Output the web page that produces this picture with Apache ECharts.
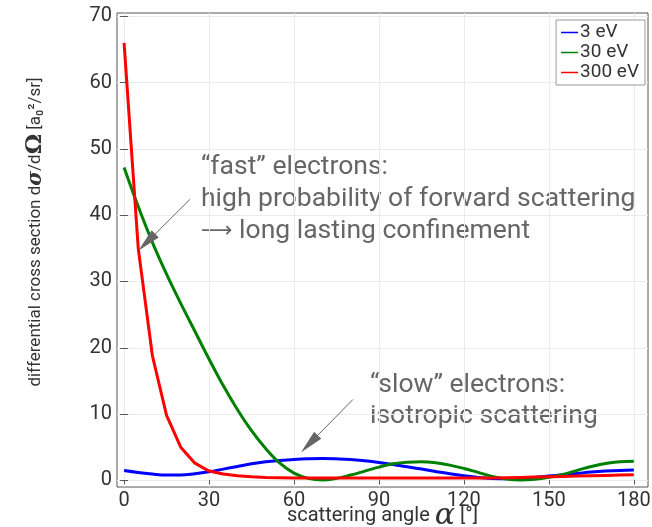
<!DOCTYPE html>
<html>
<head>
<meta charset="utf-8">
<title>differential cross section</title>
<script src="https://cdn.jsdelivr.net/npm/echarts@6/dist/echarts.min.js"></script>
<style>
  html, body { margin: 0; padding: 0; background: #fff; }
  #chart { width: 652px; height: 527px; }
</style>
</head>
<body>
<div id="chart"></div>
<script>
  // scattering angle in degrees, 5 deg steps
  const angles = [0, 5, 10, 15, 20, 25, 30, 35, 40, 45, 50, 55, 60, 65, 70, 75, 80, 85, 90,
    95, 100, 105, 110, 115, 120, 125, 130, 135, 140, 145, 150, 155, 160, 165, 170, 175, 180]
  // differential cross section [a0^2/sr]
  const cs3eV = [1.5, 1.2, 0.95, 0.8, 0.8, 1.0, 1.3, 1.7, 2.1, 2.5, 2.8, 3.0, 3.15, 3.25, 3.3, 3.25, 3.15, 2.95, 2.7,
    2.4, 2.05, 1.7, 1.35, 1.0, 0.7, 0.45, 0.3, 0.25, 0.3, 0.45, 0.65, 0.85, 1.05, 1.25, 1.4, 1.5, 1.55]
  const cs30eV = [47.2, 41.3, 35.9, 31.1, 26.7, 22.5, 18.3, 14.3, 10.7, 7.5, 4.8, 2.6, 1.1, 0.3, 0.05, 0.3, 0.8, 1.4, 2.0,
    2.5, 2.75, 2.8, 2.65, 2.3, 1.8, 1.2, 0.6, 0.2, 0.05, 0.15, 0.45, 0.9, 1.5, 2.1, 2.55, 2.8, 2.9]
  const cs300eV = [66, 35, 18.8, 9.8, 5.0, 2.6, 1.4, 0.95, 0.7, 0.55, 0.45, 0.4, 0.35, 0.35, 0.35, 0.35, 0.35, 0.35, 0.35,
    0.35, 0.35, 0.35, 0.35, 0.35, 0.35, 0.35, 0.35, 0.4, 0.45, 0.5, 0.55, 0.6, 0.65, 0.7, 0.75, 0.8, 0.85]
  const seriesNames = ['3 eV', '30 eV', '300 eV']
  const seriesColors = ['#0000ff', '#008000', '#ff0000']
  const xTicks = [0, 30, 60, 90, 120, 150, 180]
  const yTicks = [0, 10, 20, 30, 40, 50, 60, 70]
  // annotation arrows: [start, head] in data coordinates
  const fastArrow = [[23.3, 42.4], [8.0, 35.9]]
  const slowArrow = [[80.8, 12.2], [65.4, 5.5]]

  const font = 'Roboto'
  const axisColor = '#555'
  const textColor = '#333'

  function toPairs(values) {
    return angles.map((a, i) => [a, values[i]])
  }

  function arrowLine(arrow) {
    return [{ coord: arrow[0] }, { coord: arrow[1] }]
  }

  function curve(i, values, smooth) {
    return {
      name: seriesNames[i],
      type: 'line',
      symbol: 'none',
      smooth: smooth,
      color: seriesColors[i],
      lineStyle: { width: 3 },
      data: toPairs(values)
    }
  }

  let red = curve(2, cs300eV, false)
  red.markLine = {
    silent: true,
    symbol: ['none', 'triangle'],
    symbolSize: [10, 24],
    label: { show: false },
    lineStyle: { color: '#666', width: 1, type: 'solid' },
    itemStyle: { color: '#555' },
    data: [arrowLine(fastArrow), arrowLine(slowArrow)]
  }

  const annoRich = { arr: { fontFamily: 'DejaVu Sans', fontSize: 22, color: '#666' } }

  let chart = echarts.init(document.getElementById('chart'))
  chart.setOption({
    animation: false,
    grid: {
      left: 117,
      right: 4,
      top: 13,
      bottom: 40,
      outerBoundsMode: 'none',
      show: true,
      borderColor: axisColor,
      borderWidth: 1
    },
    legend: {
      orient: 'vertical',
      right: 7,
      top: 20,
      backgroundColor: '#fff',
      borderColor: '#999',
      borderWidth: 1,
      borderRadius: 0,
      padding: [3, 6, 3, 5],
      itemGap: 1,
      itemWidth: 17,
      itemHeight: 1.5,
      icon: 'rect',
      textStyle: { fontFamily: font, fontSize: 19, color: textColor, padding: [0, 0, 0, -3] },
      data: seriesNames
    },
    xAxis: [{
      type: 'value',
      min: -2.5,
      max: 185,
      name: 'scattering angle {a|α} [°]',
      nameLocation: 'middle',
      nameGap: 14,
      nameMoveOverlap: false,
      nameTextStyle: {
        fontFamily: font, fontSize: 20, color: textColor, verticalAlign: 'top',
        rich: { a: { fontFamily: 'DejaVu Serif', fontStyle: 'italic', fontSize: 30, color: textColor } }
      },
      axisLine: { show: false },
      axisTick: { show: true, inside: false, length: 3, customValues: xTicks, lineStyle: { color: axisColor } },
      axisLabel: { customValues: xTicks, fontFamily: font, fontSize: 20, color: textColor, margin: 4 },
      splitLine: { show: true, lineStyle: { color: '#ebebeb' } }
    }, {
      type: 'value',
      position: 'top',
      min: -2.5,
      max: 185,
      axisLine: { show: false },
      axisTick: { show: true, inside: true, length: 4, customValues: xTicks, lineStyle: { color: axisColor } },
      axisLabel: { show: false },
      splitLine: { show: false }
    }],
    yAxis: [{
      type: 'value',
      min: -1,
      max: 70.5,
      name: 'differential cross section d{s|σ}/d{o|Ω} [a₀²/sr]',
      nameLocation: 'middle',
      nameRotate: 90,
      nameGap: 70,
      nameTextStyle: {
        fontFamily: font, fontSize: 17, color: textColor, padding: [0, 0, 0, 36],
        rich: {
          s: { fontFamily: 'DejaVu Serif', fontStyle: 'italic', fontWeight: 'bold', fontSize: 20, color: textColor },
          o: { fontFamily: 'DejaVu Serif', fontWeight: 'bold', fontSize: 23, color: textColor }
        }
      },
      axisLine: { show: false },
      axisTick: { show: true, inside: true, length: 4, customValues: yTicks, lineStyle: { color: axisColor } },
      axisLabel: { customValues: yTicks, fontFamily: font, fontSize: 20, color: textColor, margin: 5 },
      splitLine: { show: true, lineStyle: { color: '#ebebeb' } }
    }, {
      type: 'value',
      position: 'right',
      min: -1,
      max: 70.5,
      axisLine: { show: false },
      axisTick: { show: true, inside: true, length: 4, customValues: yTicks, lineStyle: { color: axisColor } },
      axisLabel: { show: false },
      splitLine: { show: false }
    }],
    series: [curve(0, cs3eV, 0.4), curve(1, cs30eV, 0.4), red],
    graphic: [{
      type: 'text',
      left: 201,
      top: 151,
      style: {
        text: '“fast” electrons:\nhigh probability of forward scattering\n{arr|⟶} long lasting confinement',
        font: '26.5px Roboto',
        fill: '#666',
        lineHeight: 32,
        rich: annoRich
      }
    }, {
      type: 'text',
      left: 370,
      top: 370,
      style: {
        text: '“slow” electrons:\nisotropic scattering',
        font: '26.5px Roboto',
        fill: '#666',
        lineHeight: 31
      }
    }]
  })
</script>
</body>
</html>
